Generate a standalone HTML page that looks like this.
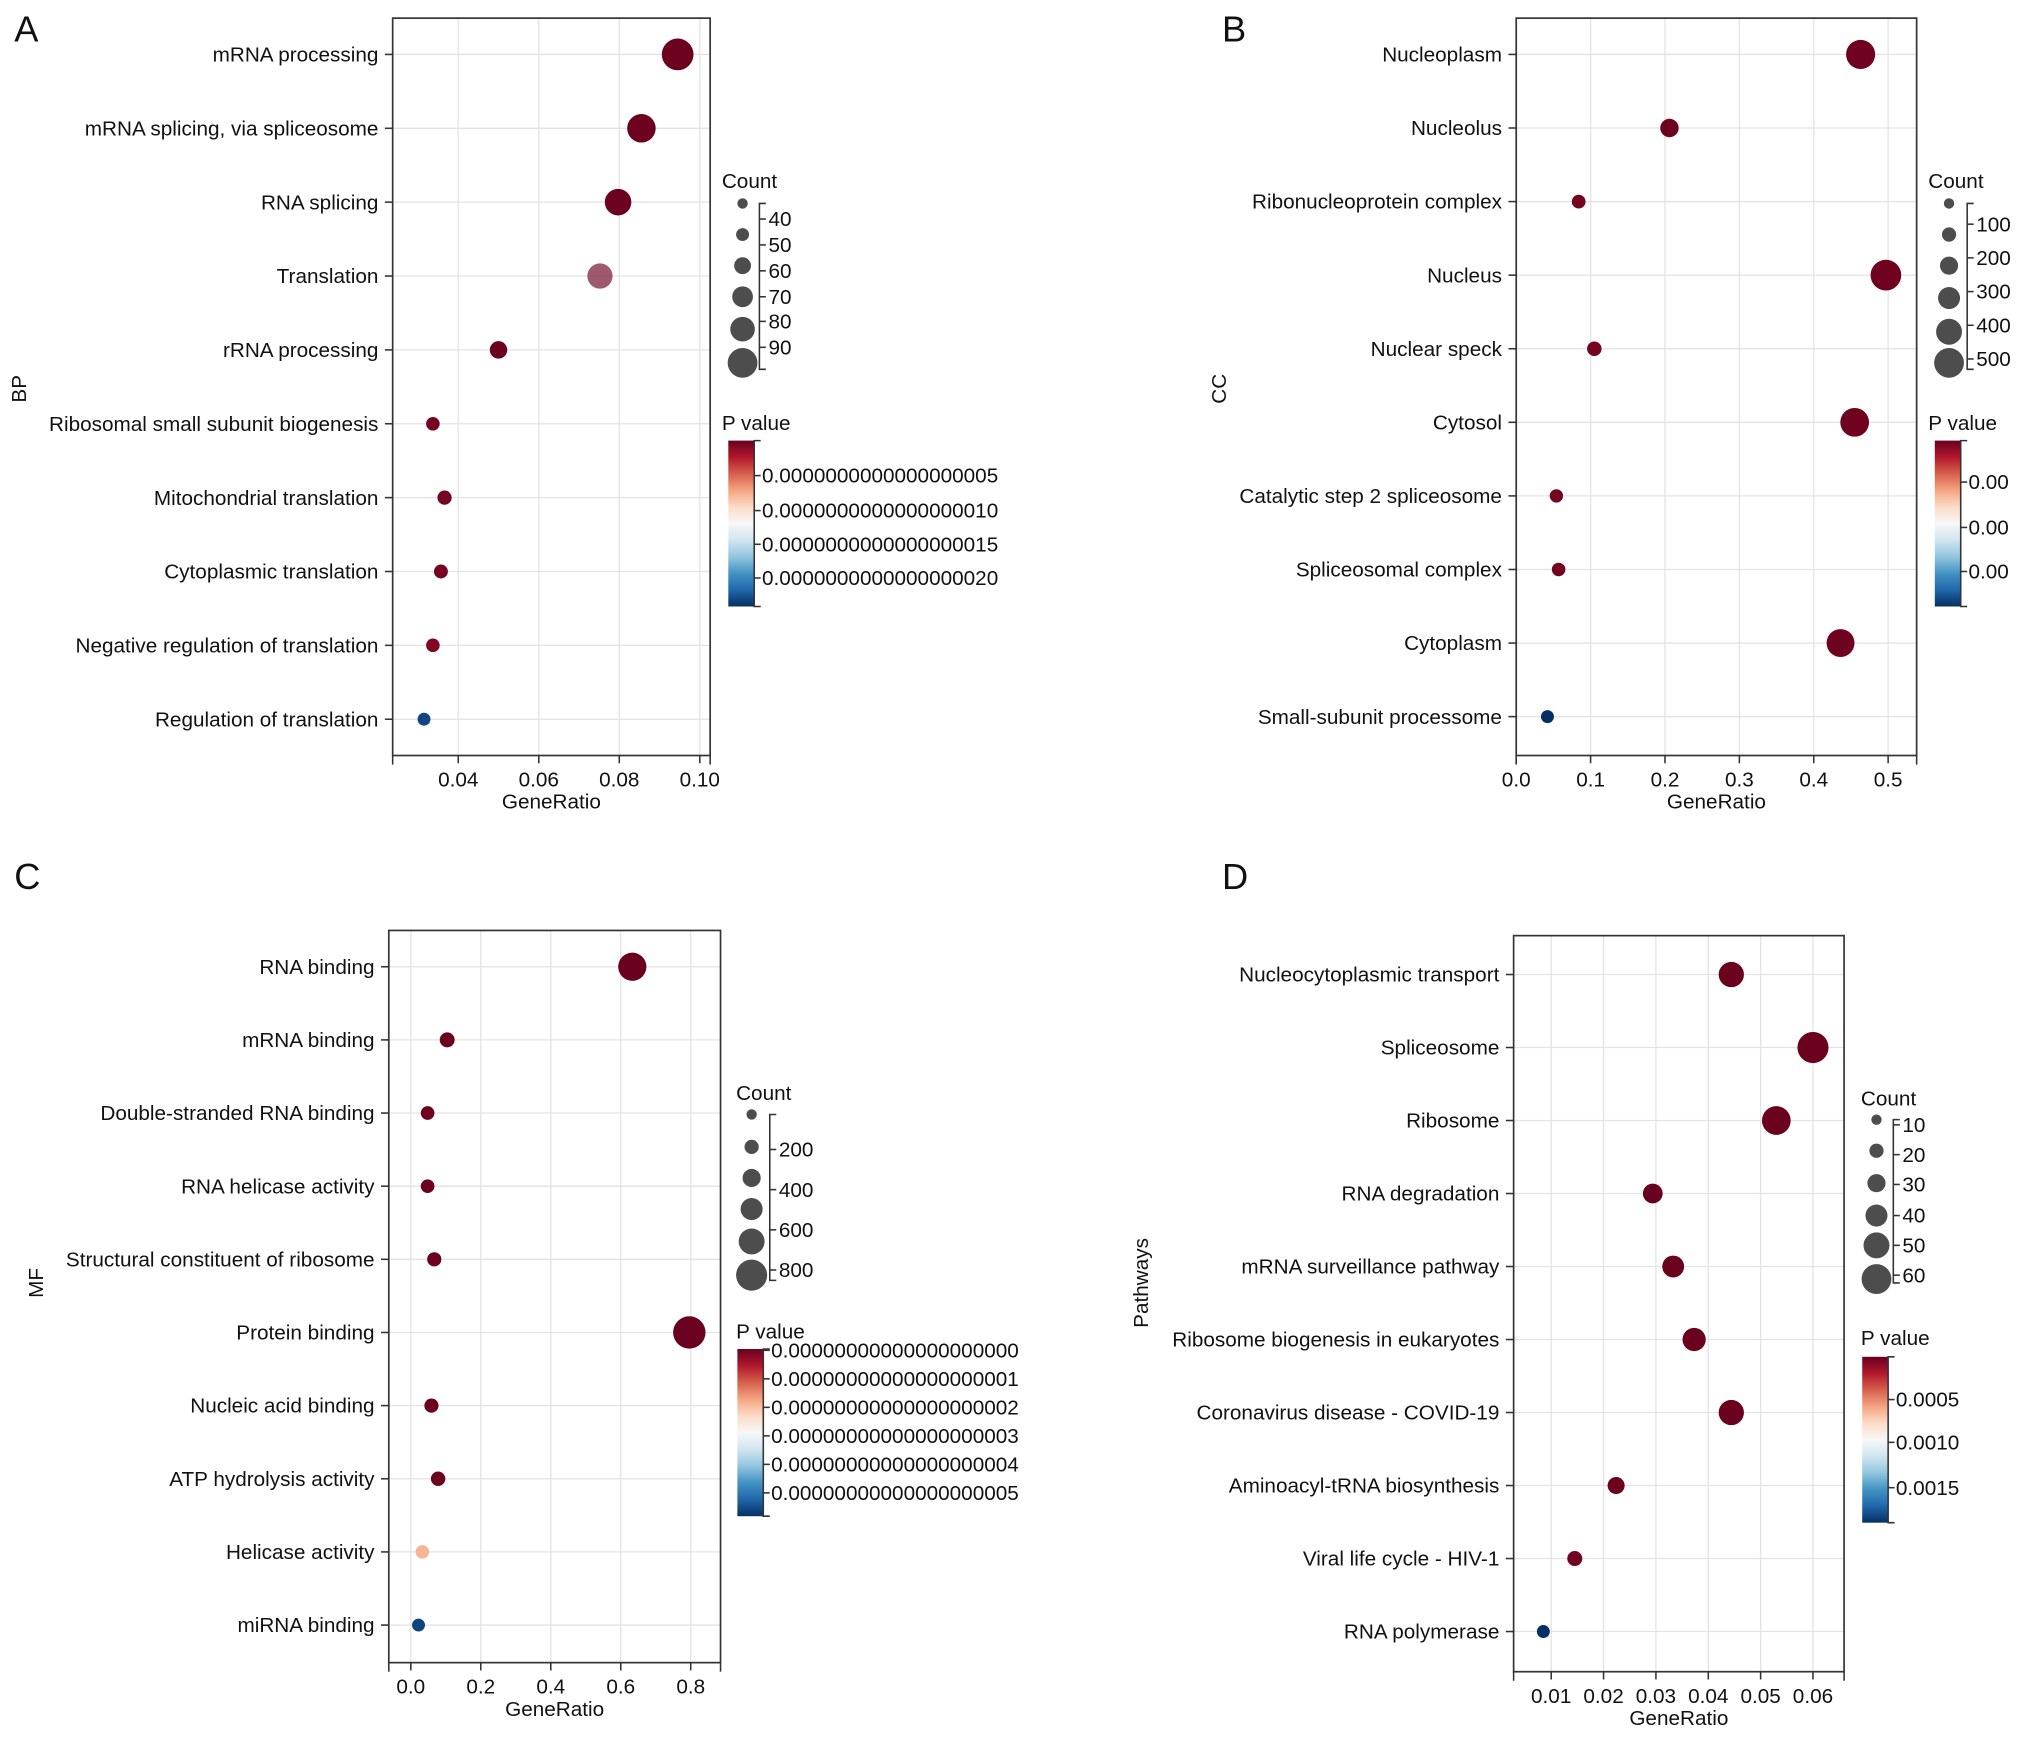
<!DOCTYPE html>
<html><head><meta charset="utf-8"><style>
html,body{margin:0;padding:0;background:#fff;}
svg{display:block;font-family:"Liberation Sans",Arial,sans-serif;}
</style></head><body>
<svg id="fig" width="2032" height="1740" viewBox="0 0 1568 1342.7" xmlns="http://www.w3.org/2000/svg">
<defs>
<linearGradient id="rdbu" x1="0" y1="0" x2="0" y2="1">
<stop offset="0" stop-color="#67001f"/><stop offset="0.1" stop-color="#b2182b"/><stop offset="0.2" stop-color="#d6604d"/><stop offset="0.3" stop-color="#f4a582"/><stop offset="0.4" stop-color="#fddbc7"/><stop offset="0.5" stop-color="#f7f7f7"/><stop offset="0.6" stop-color="#d1e5f0"/><stop offset="0.7" stop-color="#92c5de"/><stop offset="0.8" stop-color="#4393c3"/><stop offset="0.9" stop-color="#2166ac"/><stop offset="1" stop-color="#053061"/>
</linearGradient>
</defs>
</svg>
<script>
// ---- Panel A data (BP)
const catsA = ["mRNA processing","mRNA splicing, via spliceosome","RNA splicing","Translation","rRNA processing","Ribosomal small subunit biogenesis","Mitochondrial translation","Cytoplasmic translation","Negative regulation of translation","Regulation of translation"];
const ratioA = [0.0945,0.0855,0.0797,0.0752,0.050,0.0337,0.0366,0.0357,0.0337,0.0315];
const countA = [92,82,76,72,48,36,38,37,36,34];
const pA = [0.02e-18,0.02e-18,0.02e-18,0.02e-18,0.02e-18,0.05e-18,0.05e-18,0.05e-18,0.08e-18,2.3e-18];
const alphaA = [1,1,1,0.65,1,1,1,1,1,1];
const xTicksA = [0.04,0.06,0.08,0.10];
const xTickLabelsA = ["0.04","0.06","0.08","0.10"];
const sizeLabelsA = ["40","50","60","70","80","90"];
const pTickLabelsA = ["0.0000000000000000005","0.0000000000000000010","0.0000000000000000015","0.0000000000000000020"];
// ---- Panel B data (CC)
const catsB = ["Nucleoplasm","Nucleolus","Ribonucleoprotein complex","Nucleus","Nuclear speck","Cytosol","Catalytic step 2 spliceosome","Spliceosomal complex","Cytoplasm","Small-subunit processome"];
const ratioB = [0.463,0.206,0.084,0.497,0.105,0.455,0.054,0.057,0.436,0.042];
const countB = [470,200,80,510,100,460,70,75,440,60];
const pB = [0.00001,0.00001,0.00002,0.00001,0.00002,0.00001,0.00002,0.00002,0.00001,0.0011];
const xTicksB = [0,0.1,0.2,0.3,0.4,0.5];
const xTickLabelsB = ["0.0","0.1","0.2","0.3","0.4","0.5"];
const sizeLabelsB = ["100","200","300","400","500"];
const pTickLabelsB = ["0.00","0.00","0.00"];
// ---- Panel C data (MF)
const catsC = ["RNA binding","mRNA binding","Double-stranded RNA binding","RNA helicase activity","Structural constituent of ribosome","Protein binding","Nucleic acid binding","ATP hydrolysis activity","Helicase activity","miRNA binding"];
const ratioC = [0.633,0.104,0.048,0.048,0.067,0.796,0.059,0.078,0.033,0.022];
const countC = [660,120,70,70,90,830,90,100,60,40];
const pC = [0.02e-18,0.05e-18,0.05e-18,0.05e-18,0.05e-18,0.02e-18,0.05e-18,0.05e-18,1.9e-18,5.6e-18];
const xTicksC = [0,0.2,0.4,0.6,0.8];
const xTickLabelsC = ["0.0","0.2","0.4","0.6","0.8"];
const sizeLabelsC = ["200","400","600","800"];
const pTickLabelsC = ["0.00000000000000000000","0.00000000000000000001","0.00000000000000000002","0.00000000000000000003","0.00000000000000000004","0.00000000000000000005"];
// ---- Panel D data (KEGG)
const catsD = ["Nucleocytoplasmic transport","Spliceosome","Ribosome","RNA degradation","mRNA surveillance pathway","Ribosome biogenesis in eukaryotes","Coronavirus disease - COVID-19","Aminoacyl-tRNA biosynthesis","Viral life cycle - HIV-1","RNA polymerase"];
const ratioD = [0.0444,0.060,0.053,0.0294,0.0333,0.0373,0.0444,0.0224,0.0145,0.0085];
const countD = [45,62,55,29,35,39,45,21,15,9];
const pD = [0.00002,0.00002,0.00002,0.00002,0.00002,0.00002,0.00002,0.00003,0.00004,0.0019];
const xTicksD = [0.01,0.02,0.03,0.04,0.05,0.06];
const xTickLabelsD = ["0.01","0.02","0.03","0.04","0.05","0.06"];
const sizeLabelsD = ["10","20","30","40","50","60"];
const pTickLabelsD = ["0.0005","0.0010","0.0015"];

const NS="http://www.w3.org/2000/svg";
const svg=document.getElementById('fig');
const FS=16;
function mk(tag,attrs,parent,text){const e=document.createElementNS(NS,tag);for(const k in attrs)e.setAttribute(k,attrs[k]);if(text!==undefined)e.textContent=text;(parent||svg).appendChild(e);return e;}
const stops=["#67001f","#b2182b","#d6604d","#f4a582","#fddbc7","#f7f7f7","#d1e5f0","#92c5de","#4393c3","#2166ac","#053061"];
function hex(h){return [parseInt(h.slice(1,3),16),parseInt(h.slice(3,5),16),parseInt(h.slice(5,7),16)];}
function cmap(t){t=Math.max(0,Math.min(1,t));const f=t*10,i=Math.min(9,Math.floor(f)),r=f-i;const a=hex(stops[i]),b=hex(stops[i+1]);return "rgb("+a.map((v,k)=>Math.round(v+(b[k]-v)*r)).join(",")+")";}

function panel(cfg){
  const g=mk('g',{});
  
  
  const L=cfg.box[0],T=cfg.box[1],R=cfg.box[2],B=cfg.box[3];
  const xs=v=>cfg.x0px+(v-cfg.x0)*(cfg.x1px-cfg.x0px)/(cfg.x1-cfg.x0);
  const n=cfg.cats.length;
  const ys=i=>cfg.y0+i*(cfg.y1-cfg.y0)/(n-1);
  const rs=c=>cfg.r0+(cfg.r1-cfg.r0)*(c-cfg.c0)/(cfg.c1-cfg.c0);
  const ps=p=>(p-cfg.p0)/(cfg.p1-cfg.p0);
  const lt=mk('text',{x:cfg.letter[0],y:cfg.letter[1],'font-size':28,fill:'#111'},g,cfg.letterText);
  
  
  cfg.ticks.forEach(v=>{mk('line',{x1:xs(v),x2:xs(v),y1:T,y2:B,stroke:'#e3e3e3','stroke-width':1},g);});
  for(let i=0;i<n;i++)mk('line',{x1:L,x2:R,y1:ys(i),y2:ys(i),stroke:'#e3e3e3','stroke-width':1},g);
  const bx=mk('rect',{x:L,y:T,width:R-L,height:B-T,fill:'none',stroke:'#333','stroke-width':1.3},g);
  
  
  for(let i=0;i<n;i++){
    mk('line',{x1:L-6,x2:L,y1:ys(i),y2:ys(i),stroke:'#333','stroke-width':1.2},g);
    const t=mk('text',{x:L-11,y:ys(i)+5.5,'font-size':FS,'text-anchor':'end',fill:'#111'},g,cfg.cats[i]);
    
    
  }
  mk('line',{x1:L,x2:L,y1:B,y2:B+7,stroke:'#333','stroke-width':1.2},g);
  mk('line',{x1:R,x2:R,y1:B,y2:B+7,stroke:'#333','stroke-width':1.2},g);
  cfg.ticks.forEach((v,k)=>{
    mk('line',{x1:xs(v),x2:xs(v),y1:B,y2:B+6,stroke:'#333','stroke-width':1.2},g);
    const t=mk('text',{x:xs(v),y:B+24,'font-size':FS,'text-anchor':'middle',fill:'#111'},g,cfg.tickLabels[k]);
    
    
  });
  const xt=mk('text',{x:(L+R)/2,y:B+41,'font-size':FS,'text-anchor':'middle',fill:'#111'},g,'GeneRatio');
  
  
  const yt=mk('text',{x:cfg.ylab[0],y:cfg.ylab[1],'font-size':FS,'text-anchor':'middle',fill:'#111',transform:'rotate(-90 '+cfg.ylab[0]+' '+cfg.ylab[1]+')'},g,cfg.ylabText);
  
  
  for(let i=0;i<n;i++){
    const c=mk('circle',{cx:xs(cfg.ratio[i]),cy:ys(i),r:rs(cfg.count[i]),fill:cmap(ps(cfg.p[i])),'fill-opacity':cfg.alpha?cfg.alpha[i]:1},g);
    
    
  }
  const sl=cfg.sl;
  const st=mk('text',{x:sl.tx,y:sl.ty,'font-size':FS,fill:'#111'},g,'Count');
  
  
  sl.cy.forEach((y,k)=>{const c=mk('circle',{cx:sl.cx,cy:y,r:sl.r[k],fill:'#4d4d4d'},g);});
  mk('path',{d:'M'+(sl.bx+5)+' '+sl.b0+'H'+sl.bx+'V'+sl.b1+'H'+(sl.bx+5),fill:'none',stroke:'#333','stroke-width':1.2},g);
  sl.labels.forEach((s,k)=>{
    mk('line',{x1:sl.bx,x2:sl.bx+5,y1:sl.ly[k],y2:sl.ly[k],stroke:'#333','stroke-width':1.2},g);
    const t=mk('text',{x:sl.bx+7,y:sl.ly[k]+5.5,'font-size':FS,fill:'#111'},g,s);
    
    
  });
  const cb=cfg.cb;
  const ct=mk('text',{x:cb.tx,y:cb.ty,'font-size':FS,fill:'#111'},g,'P value');
  
  
  const bar=mk('rect',{x:cb.x,y:cb.y0,width:20,height:cb.y1-cb.y0,fill:'url(#rdbu)'},g);
  
  
  mk('path',{d:'M'+(cb.x+25)+' '+cb.y0+'H'+(cb.x+20)+'V'+cb.y1+'H'+(cb.x+25),fill:'none',stroke:'#333','stroke-width':1.2},g);
  cb.labels.forEach((s,k)=>{
    mk('line',{x1:cb.x+20,x2:cb.x+25,y1:cb.ly[k],y2:cb.ly[k],stroke:'#333','stroke-width':1.2},g);
    const t=mk('text',{x:cb.x+26,y:cb.ly[k]+5.5,'font-size':FS,fill:'#111'},g,s);
    
    
  });
}

panel({name:'panel-a-bp',letterText:'A',letter:[11,32],box:[303,14,548,583],x0:0.04,x1:0.10,x0px:353.6,x1px:540,y0:42,y1:555,
  cats:catsA,ratio:ratioA,count:countA,p:pA,alpha:alphaA,ticks:xTicksA,tickLabels:xTickLabelsA,
  r0:5,r1:12.5,c0:34,c1:94,p0:0,p1:2.4e-18,ylab:[20,300],ylabText:'BP',
  sl:{tx:557,ty:145,cx:573,cy:[157,181,205,229,254,280],r:[4,5,6.5,8,9.5,11.5],bx:586,b0:157,b1:285,labels:sizeLabelsA,ly:[169,189,209,229,248,268]},
  cb:{tx:557,ty:332,x:562,y0:340,y1:468,labels:pTickLabelsA,ly:[367,394,420,446]}});

panel({name:'panel-b-cc',letterText:'B',letter:[943,32],box:[1170,14,1479,583],x0:0,x1:0.5,x0px:1170,x1px:1457,y0:42,y1:553,
  cats:catsB,ratio:ratioB,count:countB,p:pB,ticks:xTicksB,tickLabels:xTickLabelsB,
  r0:5,r1:12,c0:60,c1:520,p0:0,p1:0.0011,ylab:[946,300],ylabText:'CC',
  sl:{tx:1488,ty:145,cx:1504,cy:[157,181,205,230,256,280],r:[4,5.5,7,8.5,10,11.5],bx:1518,b0:157,b1:285,labels:sizeLabelsB,ly:[173,199,225,251,277]},
  cb:{tx:1488,ty:332,x:1493,y0:340,y1:468,labels:pTickLabelsB,ly:[372,407,441]}});

panel({name:'panel-c-mf',letterText:'C',letter:[11,686],box:[300,718,556,1283],x0:0,x1:0.8,x0px:317,x1px:533,y0:746,y1:1254,
  cats:catsC,ratio:ratioC,count:countC,p:pC,ticks:xTicksC,tickLabels:xTickLabelsC,
  r0:5,r1:12.5,c0:40,c1:830,p0:0,p1:5.8e-18,ylab:[33,990],ylabText:'MF',
  sl:{tx:568,ty:849,cx:580,cy:[860,885,909,933,958,984],r:[4,5.5,7,8.5,10,12],bx:594,b0:860,b1:988,labels:sizeLabelsC,ly:[887,918,949,980]},
  cb:{tx:568,ty:1033,x:569,y0:1041,y1:1170,labels:pTickLabelsC,ly:[1042,1064,1086,1108,1130,1152]}});

panel({name:'panel-d-pathways',letterText:'D',letter:[943,686],box:[1168,722,1423,1290],x0:0.01,x1:0.06,x0px:1197,x1px:1399,y0:752,y1:1259,
  cats:catsD,ratio:ratioD,count:countD,p:pD,ticks:xTicksD,tickLabels:xTickLabelsD,
  r0:5,r1:12,c0:9,c1:62,p0:0.000015,p1:0.0019,ylab:[886,990],ylabText:'Pathways',
  sl:{tx:1436,ty:853,cx:1448,cy:[864,888,913,938,961,987],r:[4,5.5,7,8.5,10,11.5],bx:1461,b0:864,b1:990,labels:sizeLabelsD,ly:[868,891,914,938,961,984]},
  cb:{tx:1436,ty:1038,x:1437,y0:1047,y1:1175,labels:pTickLabelsD,ly:[1080,1113,1148]}});
</script>
</body></html>
